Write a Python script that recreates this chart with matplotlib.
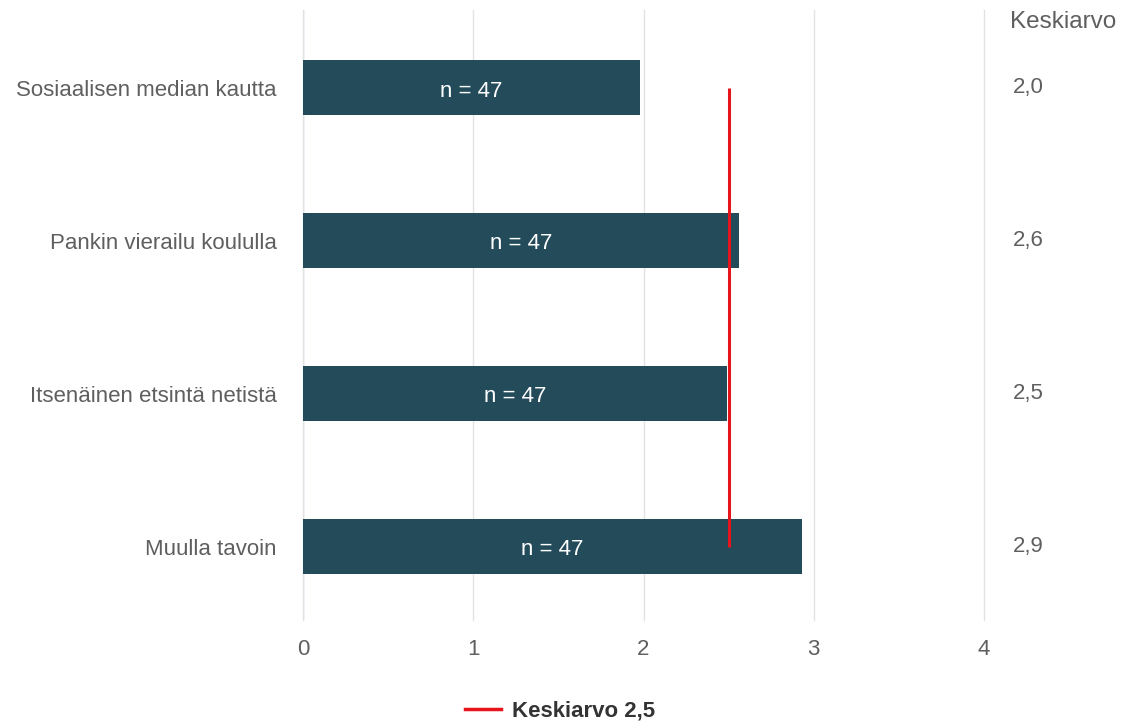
import matplotlib.pyplot as plt
from matplotlib.lines import Line2D

plt.rcParams['font.family'] = ['Liberation Sans', 'DejaVu Sans']

# Survey results: how the information was received (scale 0-4)
categories = ['Sosiaalisen median kautta', 'Pankin vierailu koululla',
              'Itsenäinen etsintä netistä', 'Muulla tavoin']
means = [1.98, 2.56, 2.49, 2.93]
counts = [47, 47, 47, 47]
overall_mean = 2.5
xticks = [0, 1, 2, 3, 4]

bar_color = '#234b5a'
text_gray = '#5f5f5f'
fs = 16

fig = plt.figure(figsize=(11.3, 7.22), dpi=100)
ax = fig.add_axes([303 / 1130, 1 - 620 / 722, 681 / 1130, 610 / 722])

y = range(len(categories))
ax.barh(y, means, height=0.36, color=bar_color, zorder=2)

for i, (m, n) in enumerate(zip(means, counts)):
    ax.text(m / 2, i + 0.02, f'n = {n}', color='white', fontsize=fs,
            ha='center', va='center', zorder=3)
    # mean column on the right
    ax.text(4.17, i, f'{m:.1f}'.replace('.', ','), color=text_gray,
            fontsize=fs, ha='left', va='center', clip_on=False)

ax.text(4.155, -0.43, 'Keskiarvo', color=text_gray, fontsize=17.5,
        ha='left', va='center', clip_on=False)

# overall mean line spans from first to last bar centre
ax.plot([overall_mean, overall_mean], [0, len(categories) - 1],
        color='#e8141c', lw=2.2, zorder=4, solid_capstyle='butt')

ax.set_xlim(0, 4)
ax.set_ylim(3.48, -0.51)
ax.set_xticks(xticks)
ax.set_xticklabels([str(t) for t in xticks])
ax.set_yticks(list(y))
ax.set_yticklabels(categories)
ax.tick_params(axis='both', length=0, colors=text_gray, labelsize=fs)
ax.tick_params(axis='x', pad=14)
ax.tick_params(axis='y', pad=19)

ax.grid(axis='x', color='#e2e2e2', lw=1, zorder=0)
for gl in ax.get_xgridlines():
    gl.set_clip_on(False)
for s in ax.spines.values():
    s.set_visible(False)
ax.axvline(0, color='#c9c9ee', lw=1, zorder=1)

handle = Line2D([], [], color='#e8141c', lw=2.5)
leg = fig.legend([handle], [f'Keskiarvo {overall_mean:.1f}'.replace('.', ',')],
                 loc='center', bbox_to_anchor=(560 / 1130, 1 - 711 / 722),
                 frameon=False, handlelength=1.6, handletextpad=0.5,
                 prop={'size': fs, 'weight': 'bold'})
for t in leg.get_texts():
    t.set_color('#333333')

fig.savefig('out.png', dpi=100)
